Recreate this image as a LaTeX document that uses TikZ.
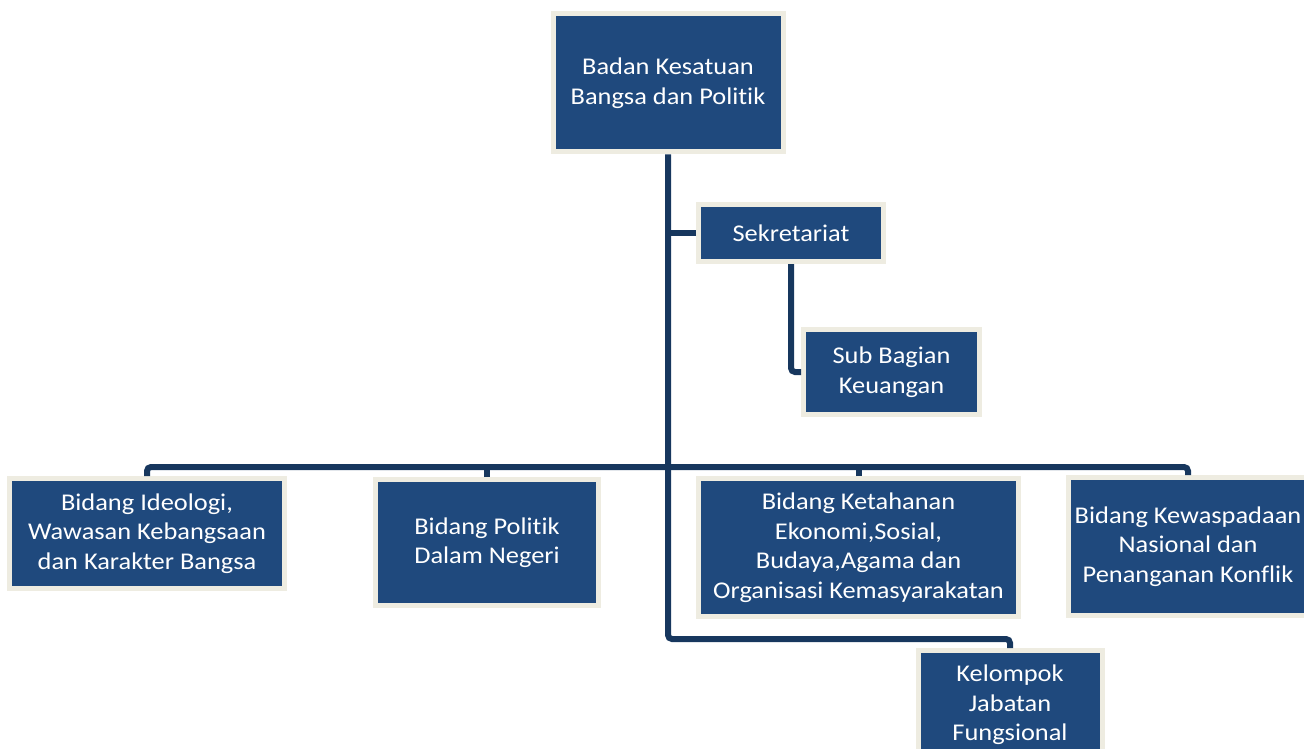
\documentclass[tikz,border=0pt]{standalone}
\usepackage{fontspec}
\setmainfont{Carlito}[FakeStretch=1.1, Ligatures=NoCommon]
\usepackage{tikz}

\definecolor{boxblue}{HTML}{1F497D}
\definecolor{boxrim}{HTML}{EEECE1}
\definecolor{linkblue}{HTML}{17375E}

\tikzset{
	unit/.style={draw=boxrim, line width=5pt, fill=boxblue, text=white,
		align=center, inner sep=0pt, font=\fontsize{24}{29.5}\selectfont},
	conn/.style={draw=linkblue, line width=6pt, rounded corners=4pt}
}

\begin{document}
\begin{tikzpicture}[x=1pt,y=-1pt]
\useasboundingbox (0,0) rectangle (1304,749);

% kotak-kotak
\node[unit, minimum width=230pt, minimum height=138pt] (kepala) at (668,83) {Badan Kesatuan\\Bangsa dan Politik};
\node[unit, minimum width=185pt, minimum height=57pt] (sekre) at (791,233) {Sekretariat};
\node[unit, minimum width=176pt, minimum height=85pt] (keu) at (891.5,372) {Sub Bagian\\Keuangan};
\node[unit, minimum width=275pt, minimum height=110pt] (ideo) at (147,533.5) {Bidang Ideologi,\\Wawasan Kebangsaan\\dan Karakter Bangsa};
\node[unit, minimum width=223pt, minimum height=126pt] (polit) at (487,542.5) {Bidang Politik\\Dalam Negeri};
\node[unit, minimum width=320pt, minimum height=138pt] (tahan) at (858.5,547.5) {Bidang Ketahanan\\Ekonomi,Sosial,\\Budaya,Agama dan\\Organisasi Kemasyarakatan};
\node[unit, minimum width=239pt, minimum height=138pt] (waspada) at (1188,546.5) {Bidang Kewaspadaan\\Nasional dan\\Penanganan Konflik};
\node[unit, minimum width=184pt, minimum height=109pt] (fungsi) at (1010,705) {Kelompok\\Jabatan\\Fungsional};

% garis
\coordinate (bus) at (668,467);
\coordinate (ujung) at (668,639);
\draw[conn] (kepala.south) -- (ujung) -| (fungsi.north);
\draw[conn] (sekre.west) -- (sekre.west -| kepala.south);
\draw[conn] (sekre.south) |- (keu.west);
\draw[conn] (ideo.north) |- (bus) -| (waspada.north);
\foreach \b in {polit,tahan}
	\draw[conn] (\b.north) -- (\b.north |- bus);
\end{tikzpicture}
\end{document}
